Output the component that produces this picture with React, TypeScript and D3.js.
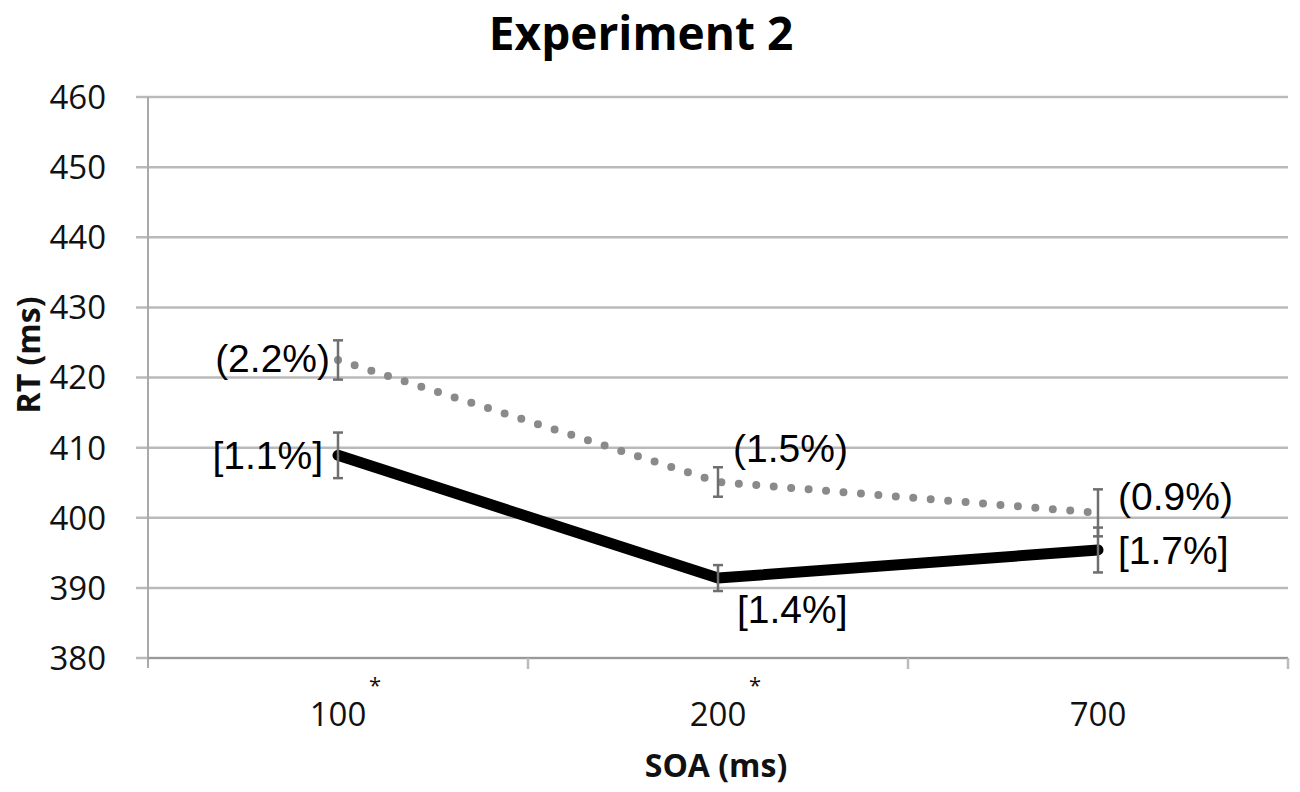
import * as d3 from "d3";
import { useEffect, useRef } from "react";

const categories = ["100", "200", "700"];
const starred = [true, true, false];
const yTicks = [380, 390, 400, 410, 420, 430, 440, 450, 460];

// dotted gray series, labels in parentheses
const dottedMeans = [422.5, 405.1, 400.7];
const dottedErr = [2.8, 2.1, 3.35];
const dottedLabels = ["(2.2%)", "(1.5%)", "(0.9%)"];

// solid black series, labels in brackets
const solidMeans = [408.9, 391.4, 395.4];
const solidErr = [3.25, 1.85, 3.2];
const solidLabels = ["[1.1%]", "[1.4%]", "[1.7%]"];

const App = () => {
  const ref = useRef<SVGSVGElement>(null);

  useEffect(() => {
    const svg = d3.select(ref.current);
    const width = 1300;
    const height = 792;
    const m = { top: 97, right: 12, bottom: 134, left: 148 };
    svg.attr("width", width).attr("height", height);

    const x = d3
      .scaleBand()
      .domain(categories)
      .range([m.left, width - m.right])
      .padding(0);
    const y = d3
      .scaleLinear()
      .domain([380, 460])
      .range([height - m.bottom, m.top]);

    const cx = (i: number) => (x(categories[i]) as number) + x.bandwidth() / 2;

    // gridlines
    svg
      .append("g")
      .selectAll("line")
      .data(yTicks)
      .join("line")
      .attr("x1", m.left - 12)
      .attr("x2", width - m.right)
      .attr("y1", (d) => y(d))
      .attr("y2", (d) => y(d))
      .attr("stroke", "#bababa")
      .attr("stroke-width", 2.5);

    // y axis line
    svg
      .append("line")
      .attr("x1", m.left)
      .attr("x2", m.left)
      .attr("y1", m.top)
      .attr("y2", y(380) + 10)
      .attr("stroke", "#aaa")
      .attr("stroke-width", 2);

    // x axis line + ticks
    svg
      .append("line")
      .attr("x1", m.left)
      .attr("x2", width - m.right)
      .attr("y1", y(380))
      .attr("y2", y(380))
      .attr("stroke", "#999")
      .attr("stroke-width", 2);
    const bounds = categories.map((c) => x(c) as number).concat([width - m.right]);
    svg
      .append("g")
      .selectAll("line")
      .data(bounds.slice(1))
      .join("line")
      .attr("x1", (d) => d)
      .attr("x2", (d) => d)
      .attr("y1", y(380))
      .attr("y2", y(380) + 11)
      .attr("stroke", "#bbb")
      .attr("stroke-width", 2.5);

    // y tick labels
    svg
      .append("g")
      .selectAll("text")
      .data(yTicks)
      .join("text")
      .attr("x", 106)
      .attr("y", (d) => y(d))
      .attr("dy", "0.36em")
      .attr("text-anchor", "end")
      .attr("font-family", "'Open Sans', sans-serif")
      .attr("font-size", 33)
      .attr("fill", "#111")
      .text((d) => d);

    // x tick labels
    svg
      .append("g")
      .selectAll("text")
      .data(categories)
      .join("text")
      .attr("x", (d) => (x(d) as number) + x.bandwidth() / 2)
      .attr("y", 726)
      .attr("text-anchor", "middle")
      .attr("font-family", "'Open Sans', sans-serif")
      .attr("font-size", 33)
      .attr("fill", "#111")
      .text((d) => d);
    svg
      .append("g")
      .selectAll("text")
      .data(categories.filter((_, i) => starred[i]))
      .join("text")
      .attr("x", (d) => (x(d) as number) + x.bandwidth() / 2 + 37)
      .attr("y", 693)
      .attr("text-anchor", "middle")
      .attr("font-family", "'Open Sans', sans-serif")
      .attr("font-size", 22)
      .attr("fill", "#111")
      .text("*");

    // title and axis titles
    svg
      .append("text")
      .attr("x", 641)
      .attr("y", 50)
      .attr("text-anchor", "middle")
      .attr("font-family", "'Open Sans', sans-serif")
      .attr("font-weight", "bold")
      .attr("font-size", 46)
      .attr("fill", "#000")
      .text("Experiment 2");
    svg
      .append("text")
      .attr("x", 716)
      .attr("y", 777)
      .attr("text-anchor", "middle")
      .attr("font-family", "'Open Sans', sans-serif")
      .attr("font-weight", "bold")
      .attr("font-size", 32)
      .attr("fill", "#111")
      .text("SOA (ms)");
    svg
      .append("text")
      .attr("transform", `translate(40,355) rotate(-90)`)
      .attr("text-anchor", "middle")
      .attr("font-family", "'Open Sans', sans-serif")
      .attr("font-weight", "bold")
      .attr("font-size", 32)
      .attr("fill", "#111")
      .text("RT (ms)");

    const line = d3
      .line<number>()
      .x((_, i) => cx(i))
      .y((d) => y(d));

    // dotted series
    svg
      .append("path")
      .attr("d", line(dottedMeans))
      .attr("fill", "none")
      .attr("stroke", "#8a8a8a")
      .attr("stroke-width", 8)
      .attr("stroke-linecap", "round")
      .attr("stroke-dasharray", "0 17.5");

    // solid series
    svg
      .append("path")
      .attr("d", line(solidMeans))
      .attr("fill", "none")
      .attr("stroke", "#000")
      .attr("stroke-width", 11)
      .attr("stroke-linejoin", "round")
      .attr("stroke-linecap", "round");

    // error bars
    const errs = [
      ...dottedMeans.map((v, i) => ({ i, v, e: dottedErr[i] })),
      ...solidMeans.map((v, i) => ({ i, v, e: solidErr[i] })),
    ];
    const eb = svg.append("g").attr("stroke", "#6e6e6e").attr("stroke-width", 2.5);
    errs.forEach(({ i, v, e }) => {
      const px = cx(i);
      eb.append("line")
        .attr("x1", px)
        .attr("x2", px)
        .attr("y1", y(v - e))
        .attr("y2", y(v + e));
      [v - e, v + e].forEach((t) =>
        eb
          .append("line")
          .attr("x1", px - 5)
          .attr("x2", px + 5)
          .attr("y1", y(t))
          .attr("y2", y(t))
      );
    });

    // percentage labels
    const lab = (
      text: string,
      i: number,
      v: number,
      dx: number,
      dy: number,
      anchor: string
    ) =>
      svg
        .append("text")
        .attr("x", cx(i) + dx)
        .attr("y", y(v) + dy)
        .attr("dy", "0.36em")
        .attr("text-anchor", anchor)
        .attr("font-family", "'Liberation Sans', Arial, sans-serif")
        .attr("font-size", 39)
        .attr("fill", "#000")
        .text(text);

    lab(dottedLabels[0], 0, dottedMeans[0], -8, -2, "end");
    lab(solidLabels[0], 0, solidMeans[0], -15, 0, "end");
    lab(dottedLabels[1], 1, dottedMeans[1], 15, -34, "start");
    lab(solidLabels[1], 1, solidMeans[1], 19, 31, "start");
    lab(dottedLabels[2], 2, dottedMeans[2], 20, -17, "start");
    lab(solidLabels[2], 2, solidMeans[2], 20, 0, "start");

    return () => {
      svg.selectAll("*").remove();
    };
  }, []);

  return <svg ref={ref} style={{ display: "block", margin: "-8px" }}></svg>;
};

export default App;
